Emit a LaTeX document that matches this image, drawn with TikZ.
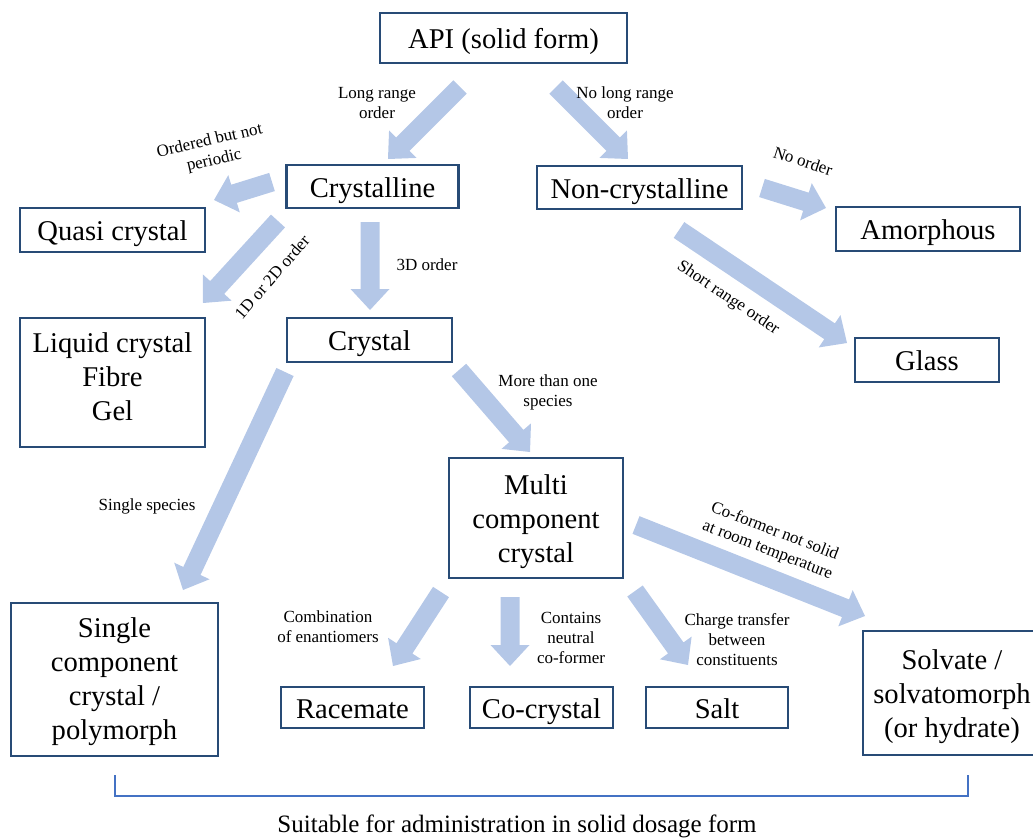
\documentclass[tikz,border=0pt]{standalone}
\usepackage{fontspec}
\setmainfont{Liberation Serif}
\usetikzlibrary{calc}
\definecolor{boxblue}{RGB}{40,75,118}
\definecolor{arrowblue}{RGB}{180,199,231}
\definecolor{bracketblue}{RGB}{68,114,196}
\newcommand\fatarrow[3]{%
  \coordinate (#1b) at ($(#3)!21pt!(#2)$);
  \fill[arrowblue] ($(#2)!9.5pt!90:(#3)$) -- ($(#1b)!9.5pt!90:(#3)$) -- ($(#1b)!19.5pt!90:(#3)$) -- (#3)
     -- ($(#1b)!19.5pt!-90:(#3)$) -- ($(#1b)!9.5pt!-90:(#3)$) -- ($(#2)!9.5pt!-90:(#3)$) -- cycle;}
\begin{document}
\begin{tikzpicture}[x=1pt,y=-1pt,
  box/.style={draw=boxblue, line width=2.5pt, fill=white, align=center, inner sep=0pt,
    font=\fontsize{28.6}{34}\selectfont},
  onebox/.style={box, text height=21pt, text depth=0pt},
  lbl/.style={align=center, inner sep=0pt, font=\fontsize{17}{20}\selectfont},
  bracketline/.style={draw=bracketblue, line width=1.8pt}]
\useasboundingbox (0,0) rectangle (1033,840);
% boxes
\node[onebox, minimum width=247pt, minimum height=50pt] (api) at (503.5,38) {API (solid form)};
\node[onebox, minimum width=172pt, minimum height=43pt] (cryst) at (372.5,186.5) {Crystalline};
\node[onebox, minimum width=205pt, minimum height=43pt] (noncryst) at (639.5,187.5) {Non-crystalline};
\node[onebox, minimum width=185pt, minimum height=44pt] (quasi) at (112.5,230) {Quasi crystal};
\node[onebox, minimum width=184pt, minimum height=44pt] (amorph) at (928,229) {Amorphous};
\node[box, minimum width=185pt, minimum height=129pt] (liquid) at (112.5,382.5) {Liquid crystal\\Fibre\\Gel\rule[-11pt]{0pt}{11pt}};
\node[onebox, minimum width=165pt, minimum height=44pt] (crystal) at (369.5,340) {Crystal};
\node[onebox, minimum width=144pt, minimum height=44pt] (glass) at (927,360) {Glass};
\node[box, minimum width=174pt, minimum height=120pt] (multi) at (536,518) {\rule{0pt}{26.5pt}Multi\\component\\crystal};
\node[box, minimum width=207pt, minimum height=153pt] (single) at (114.5,679.5) {\rule{0pt}{23.5pt}Single\\component\\crystal /\\polymorph};
\node[onebox, minimum width=143pt, minimum height=41pt] (racemate) at (352.5,707.5) {Racemate};
\node[onebox, minimum width=143pt, minimum height=41pt] (cocryst) at (541.5,707.5) {Co-crystal};
\node[onebox, minimum width=142pt, minimum height=41pt] (salt) at (717,707.5) {Salt};
\node[box, minimum width=178pt, minimum height=124pt] (solvate) at (952,693) {\rule{0pt}{27pt}Solvate /\\solvatomorph\\(or hydrate)};
% arrow end points
\coordinate (a1t) at (460,87);  \coordinate (a1h) at (388,159);
\coordinate (a2t) at (556,87);  \coordinate (a2h) at (628,159);
\coordinate (a3t) at (272,182); \coordinate (a3h) at (214,200);
\coordinate (a4t) at (762,188); \coordinate (a4h) at (826,208);
\coordinate (a5t) at (278,221); \coordinate (a5h) at (203,303);
\coordinate (a6t) at (370,222); \coordinate (a6h) at (370,310);
\coordinate (a7t) at (679,230); \coordinate (a7h) at (847,343);
\coordinate (a8t) at (285,372); \coordinate (a8h) at (183,590);
\coordinate (a9t) at (459,370); \coordinate (a9h) at (530,452);
\coordinate (a10t) at (636,525); \coordinate (a10h) at (865,616);
\coordinate (a11t) at (441,592); \coordinate (a11h) at (393,666);
\coordinate (a12t) at (510,597); \coordinate (a12h) at (510,666);
\coordinate (a13t) at (635,591); \coordinate (a13h) at (688,665);
\fatarrow{a1}{a1t}{a1h}
\fatarrow{a2}{a2t}{a2h}
\fatarrow{a3}{a3t}{a3h}
\fatarrow{a4}{a4t}{a4h}
\fatarrow{a5}{a5t}{a5h}
\fatarrow{a6}{a6t}{a6h}
\fatarrow{a7}{a7t}{a7h}
\fatarrow{a8}{a8t}{a8h}
\fatarrow{a9}{a9t}{a9h}
\fatarrow{a10}{a10t}{a10h}
\fatarrow{a11}{a11t}{a11h}
\fatarrow{a12}{a12t}{a12h}
\fatarrow{a13}{a13t}{a13h}
% labels
\node[lbl] (l1) at (377,103) {Long range\\order};
\node[lbl] (l2) at (625,103) {No long range\\order};
\node[lbl, rotate=13] (l3) at (212,151) {Ordered but not\\periodic};
\node[lbl, rotate=-18] (l4) at (803,161) {No order};
\node[lbl, rotate=49] (l5) at (272,277) {1D or 2D order};
\node[lbl] (l6) at (427,265) {3D order};
\node[lbl, rotate=-34] (l7) at (728,298) {Short range order};
\node[lbl] (l8) at (548,392) {More than one\\species};
\node[lbl] (l9) at (147,506) {Single species};
\node[lbl, rotate=-21] (l10) at (771,541) {Co-former not solid\\at room temperature};
\node[lbl] (l11) at (328,627) {Combination\\of enantiomers};
\node[lbl] (l12) at (571,638) {Contains\\neutral\\co-former};
\node[lbl] (l13) at (737,640) {Charge transfer\\between\\constituents};
% bracket
\coordinate (brL) at (115,775);
\coordinate (brR) at (968,775);
\draw[bracketline] (brL) -- ++(0,21) -| (brR);
\node[font=\fontsize{25}{30}\selectfont, inner sep=0pt] (caption) at (517,826) {Suitable for administration in solid dosage form};
\end{tikzpicture}
\end{document}
